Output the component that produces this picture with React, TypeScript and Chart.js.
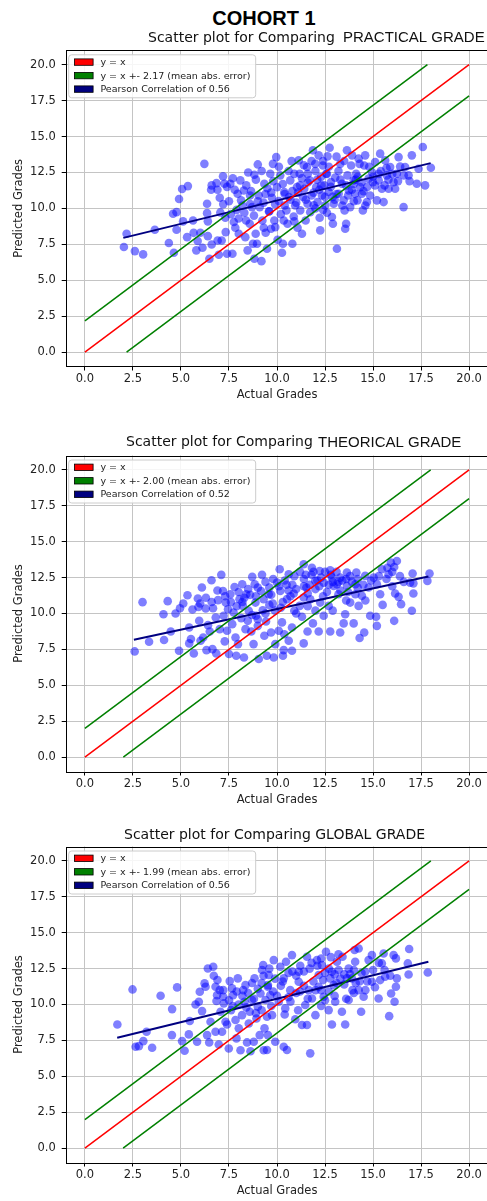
import React, { useEffect, useRef } from "react";
import { Chart, registerables } from "chart.js";
Chart.register(...registerables);

const MAIN_TITLE = "COHORT 1";
const TICKS = [0, 2.5, 5, 7.5, 10, 12.5, 15, 17.5, 20];
const AXIS_MIN = -1;
const AXIS_MAX = 21;
const DIAG = [0, 20];
const X_LABEL = "Actual Grades";
const Y_LABEL = "Predicted Grades";

const TITLE_A = ["Scatter plot for Comparing", "Scatter plot for Comparing", "Scatter plot for Comparing GLOBAL GRADE"];
const TITLE_B = ["PRACTICAL GRADE", "THEORICAL GRADE", ""];
const MAE = [2.17, 2.0, 1.99];
const PEARSON = [0.56, 0.52, 0.56];
const REG_X = [[2.0, 18.0], [2.55, 17.88], [1.68, 17.88]];
const REG_Y = [[7.95, 13.15], [8.17, 12.57], [7.68, 12.97]];

const PRACTICAL = [
  [2.03,7.31],[2.17,8.24],[2.6,7.03],[3.03,6.8],[3.64,8.51],[4.37,7.59],[4.59,9.63],[4.77,9.74],[4.63,6.91],[4.77,8.51],[4.9,10.65],[5.06,11.35],[5.36,11.55],[5.11,9.1],[5.32,8.0],[5.63,9.16],[5.66,8.3],[5.87,7.73],[5.8,7.08],[6.01,8.31],[6.12,7.26],[6.22,13.1],[6.36,10.32],[6.36,9.67],[6.4,9.1],[6.4,8.07],[6.48,6.5],[6.57,11.3],[6.6,7.49],[6.85,11.76],[6.91,7.77],[6.97,6.77],[7.02,10.74],[7.05,9.72],[7.12,7.77],[7.19,12.23],[7.26,11.72],[7.31,9.35],[7.33,8.35],[7.4,6.84],[7.5,10.5],[7.57,11.72],[7.68,6.84],[7.75,9.05],[7.83,8.65],[7.95,11.02],[8.01,8.24],[8.09,11.95],[8.13,10.56],[8.27,11.25],[8.35,8.0],[8.39,9.16],[8.47,7.08],[8.58,8.93],[8.65,11.2],[8.7,10.09],[8.75,7.54],[8.82,6.5],[8.82,12.34],[8.89,8.24],[8.96,7.54],[9.0,13.06],[9.05,10.9],[9.1,10.09],[9.19,6.33],[9.24,9.16],[9.31,8.65],[9.34,11.72],[9.41,8.31],[9.48,7.19],[9.58,9.79],[9.65,12.41],[9.69,8.58],[9.74,10.74],[9.79,13.1],[9.86,9.16],[9.91,8.7],[9.96,13.57],[10.0,11.48],[10.03,7.82],[10.09,10.51],[10.17,12.3],[10.26,6.91],[10.31,7.54],[10.35,9.16],[10.38,11.14],[10.49,9.86],[10.55,8.93],[10.62,10.79],[10.69,11.95],[10.76,13.29],[10.8,7.54],[10.87,9.44],[10.95,10.21],[11.04,11.48],[11.07,8.65],[11.13,13.34],[11.18,12.41],[11.21,9.86],[11.3,8.24],[11.35,10.79],[11.42,11.37],[11.49,9.16],[11.56,12.88],[11.59,10.32],[11.7,11.95],[11.73,9.74],[11.8,10.9],[11.87,14.04],[11.91,10.21],[11.99,13.1],[12.04,11.48],[12.11,10.44],[12.17,13.69],[12.22,9.35],[12.25,8.47],[12.29,12.18],[12.34,10.9],[12.39,12.99],[12.46,11.6],[12.51,10.21],[12.56,12.41],[12.63,13.62],[12.69,11.14],[12.74,14.22],[12.81,11.83],[12.86,9.4],[12.91,8.93],[12.95,10.32],[13.03,12.14],[13.12,7.19],[13.21,11.02],[13.29,13.1],[13.38,11.72],[13.47,10.56],[13.52,9.86],[13.55,8.58],[13.6,8.93],[13.64,14.04],[13.67,12.3],[13.74,11.25],[13.81,10.09],[13.86,12.99],[13.91,13.69],[13.99,11.95],[14.07,11.02],[14.12,12.41],[14.19,10.56],[14.25,13.46],[14.33,11.48],[14.42,11.02],[14.47,9.86],[14.54,12.99],[14.59,13.69],[14.68,10.44],[14.77,12.07],[14.85,10.9],[14.94,12.53],[14.99,11.83],[15.11,13.23],[15.2,10.56],[15.29,11.95],[15.37,13.81],[15.46,11.37],[15.55,10.44],[15.63,13.34],[15.72,12.3],[15.81,11.37],[15.89,12.88],[16.07,11.83],[16.15,11.37],[16.24,12.41],[16.33,13.57],[16.41,12.92],[16.59,10.09],[16.67,12.88],[16.85,12.3],[17.02,13.69],[17.28,11.72],[17.37,12.76],[17.59,14.27],[17.71,11.6],[18.01,12.83],
  [10.4,11.0],[10.8,11.2],[11.2,11.6],[11.5,10.6],[11.9,11.1],[12.2,11.3],[12.5,10.8],[12.8,11.5],[13.1,11.0],[13.3,12.0],[13.6,11.6],[13.9,11.3],[14.1,12.0],[14.4,11.8],[14.7,11.5],[15.0,12.2],[15.4,12.6],[15.8,12.0],[12.0,12.6],[12.6,12.4],[13.0,10.6],[11.6,12.4],[10.6,12.6],[9.8,11.9],[9.4,11.0],[9.0,10.5],[8.6,10.9],[8.2,10.2],[7.8,11.3],[7.6,9.6],[8.0,9.3],[8.8,9.5],[9.6,9.8],[10.2,9.6],[11.0,10.4],[12.0,10.0],[12.4,9.9],[13.4,10.2],[14.6,10.2],[15.6,11.6],
  [7.4,11.5],[7.7,12.1],[8.4,11.6],[8.5,12.5],[8.9,12.0],[9.2,12.6],[9.5,11.4],[9.9,10.3],[10.1,12.9],[10.4,10.2],[10.7,10.6],[10.9,12.4],[11.1,11.1],[11.3,12.1],[11.6,11.8],[11.8,13.3],[12.1,12.0],[12.3,11.6],[12.7,12.9],[12.9,10.8],[13.2,12.6],[13.5,13.3],[13.7,10.9],[14.0,11.7],[14.2,12.2],[14.5,11.2],[14.8,12.9],[15.1,11.6],[15.3,12.4],[15.7,12.8],[16.0,12.4],[16.3,11.9],[16.6,12.3],[16.9,11.9],[14.3,13.1],[13.1,13.6],[12.4,13.3],[11.4,13.0],[10.3,11.7],[9.3,10.4],[8.6,10.3],[8.3,9.7],[7.9,9.9],[7.2,10.3],[6.9,11.3],[6.6,11.6],[9.7,11.1],[10.9,9.1],[12.6,9.7],[14.0,10.5]
];

const THEORICAL = [
  [2.59,7.36],[3.0,10.79],[3.34,8.03],[4.12,8.15],[4.09,9.95],[4.31,10.86],[4.47,8.75],[4.72,10.0],[4.9,7.41],[4.95,10.37],[5.12,10.7],[5.34,11.27],[5.43,9.03],[5.43,7.92],[5.52,8.22],[5.6,10.28],[5.67,7.22],[5.88,11.04],[5.91,10.46],[5.95,9.49],[6.02,8.1],[6.09,11.81],[6.16,8.33],[6.29,10.35],[6.33,7.45],[6.41,9.19],[6.5,8.75],[6.59,12.31],[6.64,7.52],[6.67,10.37],[6.81,9.72],[6.84,7.22],[6.93,10.93],[7.02,8.91],[7.1,12.69],[7.19,11.57],[7.22,9.84],[7.28,8.06],[7.33,10.76],[7.4,8.8],[7.45,10.3],[7.5,7.18],[7.57,11.34],[7.67,9.26],[7.74,10.07],[7.79,11.85],[7.84,8.33],[7.88,7.06],[7.97,7.87],[8.05,11.0],[8.14,9.68],[8.19,12.04],[8.22,10.53],[8.28,6.94],[8.36,8.91],[8.4,11.34],[8.48,9.49],[8.53,10.19],[8.66,8.75],[8.71,12.55],[8.78,7.87],[8.84,12.04],[8.88,10.76],[8.91,9.84],[9.0,9.14],[9.05,6.83],[9.17,11.57],[9.22,12.69],[9.26,10.23],[9.34,8.45],[9.43,9.44],[9.47,7.06],[9.57,11.34],[9.69,8.68],[9.78,10.69],
  [10.14,13.08],[10.61,12.73],[11.39,13.43],[11.82,13.19],[12.22,12.96],[12.77,13.01],[13.29,12.5],[13.64,12.85],[14.13,12.85],[14.59,12.62],[15.03,12.5],[15.46,13.08],[15.75,13.19],[15.93,13.54],[16.1,13.24],[16.24,13.66],[15.81,12.73],[15.2,12.04],[15.37,11.34],[16.15,11.39],[16.33,11.16],[16.46,10.65],[17.06,12.78],[16.93,12.15],[17.1,11.39],[17.02,10.19],[17.83,12.27],[17.94,12.78],[16.1,9.49],[15.16,9.77],[15.2,9.14],[14.85,9.84],[14.54,8.68],[14.3,8.29],[13.99,9.31],[13.81,10.76],[14.25,10.53],[14.42,11.23],[14.77,11.81],[13.55,9.95],[13.47,9.31],[13.29,8.68],[13.2,11.34],[12.95,11.92],[12.77,8.75],[12.69,10.53],[12.43,9.84],[12.25,10.76],[12.17,8.75],[11.87,9.31],[11.59,8.75],[11.39,7.92],[11.3,9.77],[11.18,10.53],[10.9,10.19],[10.78,9.03],[10.61,8.1],[10.38,8.56],[10.26,9.38],[10.09,8.8],[9.91,7.87],[10.35,7.45],[10.31,7.06],[10.78,7.41],[9.83,6.94],[10.87,11.39],[11.53,11.81],[11.99,12.27],[12.43,12.15],[12.86,12.5],[13.12,12.04],[13.64,11.92],[14.08,12.04],[14.08,11.34],[11.73,10.99],[11.39,11.11],[10.52,11.0],[10.17,11.57],[10.0,12.15],
  [10.4,12.3],[10.8,12.0],[11.0,11.7],[11.4,12.4],[11.7,12.0],[12.0,11.7],[12.3,12.5],[12.6,11.5],[12.9,12.2],[13.3,11.6],[13.6,12.4],[13.9,12.2],[12.4,11.2],[11.6,11.4],[10.6,11.6],[9.6,11.8],[9.4,12.2],[9.8,12.4],[8.9,11.2],[8.5,11.7],[10.2,10.4],[11.0,10.0],[12.0,10.2],[9.4,10.0],[9.0,9.6],[8.7,9.9],[8.2,10.8],[7.9,10.5],
  [11.2,12.9],[11.5,12.7],[11.9,12.9],[12.1,12.3],[12.5,12.9],[12.8,12.7],[13.1,12.9],[13.4,12.3],[13.8,12.6],[14.2,12.4],[14.5,12.0],[14.9,12.3],[15.3,12.6],[15.7,12.4],[16.0,12.9],[16.4,12.6],[10.9,12.6],[10.5,12.0],[10.1,11.9],[9.7,11.3],[9.3,11.0],[9.0,11.8],[8.6,11.3],[8.3,11.1],[8.0,11.5],[7.6,10.8],[7.3,11.2],[6.9,11.6],[6.6,10.8],[6.3,11.1],[6.0,10.7],[11.8,12.7],[12.2,11.9],[12.7,12.0],[13.2,12.2],[13.7,11.5],[14.2,11.8],[11.4,11.9],[10.7,11.2],[10.3,10.8],[9.9,10.2],[9.6,10.6],[11.6,10.5],[12.9,10.2],[13.6,10.9],[14.6,10.9],[15.5,10.6],[16.0,11.9],[16.6,12.2],[17.1,12.1]
];

const GLOBAL = [
  [1.69,8.61],[2.48,11.05],[2.64,7.06],[2.81,7.1],[3.04,7.45],[3.21,8.1],[3.5,6.99],[3.94,10.61],[4.54,9.68],[4.53,7.87],[4.8,11.19],[5.06,7.45],[5.19,6.78],[5.41,7.92],[5.46,8.85],[5.76,10.0],[5.84,7.41],[5.93,10.19],[5.98,10.89],[6.1,9.54],[6.23,11.47],[6.28,11.24],[6.36,7.87],[6.4,12.51],[6.47,7.36],[6.54,8.8],[6.68,12.63],[6.71,12.0],[6.8,11.24],[6.8,8.1],[6.85,10.24],[6.88,10.65],[6.97,7.22],[7.02,11.0],[7.06,9.5],[7.14,8.1],[7.2,10.54],[7.23,10.08],[7.32,8.8],[7.4,8.61],[7.49,6.94],[7.54,11.63],[7.61,9.61],[7.66,11.12],[7.71,10.65],[7.84,8.92],[7.89,7.64],[7.96,11.82],[8.01,8.34],[8.1,6.82],[8.18,9.26],[8.24,11.0],[8.31,10.19],[8.36,11.35],[8.44,7.36],[8.53,8.68],[8.58,9.5],[8.62,6.75],[8.7,10.31],[8.79,7.41],[8.83,11.82],[8.93,9.03],[9.0,9.84],[9.1,7.87],[9.14,10.77],[9.22,12.4],[9.28,12.75],[9.31,6.82],[9.35,8.34],[9.4,10.31],[9.48,9.15],[9.52,11.24],
  [9.57,12.05],[9.65,10.66],[9.74,9.26],[9.53,7.87],[9.48,6.83],[9.91,7.41],[10.35,7.06],[10.52,6.83],[10.47,12.98],[10.78,13.44],[10.95,8.97],[11.21,12.7],[11.3,8.57],[11.56,8.57],[11.73,6.6],[11.56,13.32],[12.0,9.26],[12.08,13.09],[12.17,12.05],[12.43,10.54],[12.55,13.67],[12.69,9.61],[12.86,8.61],[13.03,10.19],[13.12,12.98],[13.38,9.5],[13.41,13.32],[13.55,8.61],[13.64,11.82],[13.93,11.0],[14.04,13.79],[14.25,13.9],[14.38,9.5],[14.51,10.54],[14.59,12.28],[14.77,13.09],[14.94,11.58],[15.29,10.42],[15.37,11.7],[15.55,13.55],[15.63,11.93],[15.84,9.19],[15.94,10.77],[16.12,10.19],[16.19,13.21],[16.24,11.82],[16.19,11.24],[16.81,12.86],[16.85,12.09],[16.88,13.86],[17.85,12.23],[16.07,13.44],[15.46,12.86],[14.94,13.44],[14.07,12.98],[13.73,12.5],[13.21,12.4],[12.77,11.82],[12.17,11.24],[11.65,11.0],[11.13,11.58],[10.69,11.0],[10.35,11.82],[10.09,10.19],[10.43,9.73],[11.47,9.96],[11.82,10.42],[12.95,11.35],[13.9,11.82],[14.25,11.0],[13.73,10.31],[12.86,12.28],[12.34,12.74],[11.13,12.28],[10.17,12.63],[9.83,13.09],[9.53,11.35],
  [10.6,10.5],[11.0,10.8],[11.4,11.3],[11.9,11.6],[12.3,11.0],[12.7,10.9],[13.1,11.5],[13.5,12.1],[14.0,12.4],[14.3,11.6],[10.2,11.3],[9.8,10.9],[9.2,11.5],[8.8,10.4],[8.4,9.8],[8.0,10.0],[7.7,9.9],[10.8,12.3],[11.7,12.5],[12.5,12.2],
  [12.1,12.7],[12.4,11.7],[12.7,12.5],[13.0,12.1],[13.3,11.8],[13.5,11.4],[13.8,12.1],[14.1,11.5],[14.4,12.2],[14.7,11.6],[15.0,12.4],[15.3,12.9],[15.6,12.4],[15.9,12.0],[13.2,13.5],[12.8,13.3],[12.3,13.2],[11.8,12.9],[11.4,12.3],[11.0,12.0],[10.6,12.2],[10.3,11.6],[9.9,11.8],[9.6,12.5],[9.3,12.0],[9.0,11.1],[8.7,11.5],[8.5,10.8],[8.2,10.6],[7.9,10.9],[7.5,10.3],[7.2,11.0],[6.9,11.7],[11.2,10.9],[11.6,10.4],[12.0,11.0],[12.5,10.3],[13.0,10.6],[13.6,10.4],[14.0,10.8],[10.0,10.6],[10.7,10.2],[9.7,9.9],[9.2,9.6],[8.9,9.4],[10.4,9.3],[11.1,9.6],[12.3,9.9],[14.6,11.0],[15.1,11.2]
];

const SERIES = [PRACTICAL, THEORICAL, GLOBAL];

// layout (pixels)
const CANVAS_W = 500;
const AREA_RIGHT = 488.3;
const AXIS_LEFT_W = 65.7;
const X_AXIS_H = 40;
const PANEL_TOP = [0, 410, 810];
const PANEL_H = [410, 400, 391];
const AREA_TOP = [50.3, 45.5, 36.5];
const AREA_BOTTOM = [366.5, 361.5, 352.5];
const TITLE_Y = [38.3, 32.7, 25];
const TITLE_X1 = [148, 126, 124];
const TITLE_X2 = [343, 318, 0];

const TICK_FONT = { family: "'DejaVu Sans'", size: 11.5 };
const TEXT_COLOR = "#222";

function Panel({ i }: { i: number }) {
  const ref = useRef<HTMLCanvasElement | null>(null);
  useEffect(() => {
    const canvas = ref.current;
    if (!canvas) return;
    const mae = MAE[i];
    const legendItems = [
      { color: "#ff0000", text: "y = x" },
      { color: "#008000", text: "y = x +- " + mae.toFixed(2) + " (mean abs. error)" },
      { color: "#000080", text: "Pearson Correlation of " + PEARSON[i].toFixed(2) },
    ];
    const decor = {
      id: "decor",
      afterDatasetsDraw(chart: any) {
        const { ctx, chartArea: a } = chart;
        ctx.save();
        ctx.strokeStyle = "#000";
        ctx.lineWidth = 1;
        ctx.strokeRect(Math.round(a.left) + 0.5, Math.round(a.top) + 0.5, Math.round(a.right - a.left), Math.round(a.bottom - a.top));
        const bx = a.left + 3, by = a.top + 4.5, bw = 187, bh = 43;
        ctx.beginPath();
        ctx.roundRect(bx, by, bw, bh, 3);
        ctx.fillStyle = "rgba(255,255,255,0.85)";
        ctx.fill();
        ctx.strokeStyle = "#cccccc";
        ctx.stroke();
        ctx.font = "9.5px 'DejaVu Sans'";
        ctx.textBaseline = "middle";
        legendItems.forEach((it, k) => {
          const cy = by + 7.3 + k * 13.5;
          ctx.fillStyle = it.color;
          ctx.fillRect(bx + 5.7, cy - 3.2, 18.7, 6.4);
          ctx.strokeStyle = "#000";
          ctx.lineWidth = 0.8;
          ctx.strokeRect(bx + 5.7, cy - 3.2, 18.7, 6.4);
          ctx.fillStyle = TEXT_COLOR;
          ctx.fillText(it.text, bx + 31.7, cy + 0.5);
        });
        ctx.restore();
      },
      afterDraw(chart: any) {
        const { ctx } = chart;
        ctx.save();
        ctx.fillStyle = "#111";
        ctx.textBaseline = "middle";
        ctx.font = "14px 'DejaVu Sans'";
        ctx.fillText(TITLE_A[i], TITLE_X1[i], TITLE_Y[i]);
        if (TITLE_B[i]) {
          ctx.font = "15px 'Liberation Sans'";
          ctx.fillText(TITLE_B[i], TITLE_X2[i], TITLE_Y[i]);
        }
        ctx.restore();
      },
    };
    const line = (pts: number[][], color: string, width: number) => ({
      type: "scatter" as const,
      data: pts.map(([x, y]) => ({ x, y })),
      showLine: true,
      borderColor: color,
      borderWidth: width,
      pointRadius: 0,
      fill: false,
      order: 0,
    });
    const chart = new Chart(canvas, {
      type: "scatter",
      data: {
        datasets: [
          line([[DIAG[0], DIAG[0]], [DIAG[1], DIAG[1]]], "#ff0000", 1.5),
          line([[DIAG[0], DIAG[0] + mae], [DIAG[1] - mae, DIAG[1]]], "#008000", 1.5),
          line([[DIAG[0] + mae, DIAG[0]], [DIAG[1], DIAG[1] - mae]], "#008000", 1.5),
          line([[REG_X[i][0], REG_Y[i][0]], [REG_X[i][1], REG_Y[i][1]]], "#000080", 2),
          {
            type: "scatter",
            data: SERIES[i].map(([x, y]) => ({ x, y })),
            backgroundColor: "rgba(0,0,255,0.5)",
            borderWidth: 0,
            pointRadius: 4.3,
            order: 1,
          } as any,
        ],
      },
      options: {
        responsive: false,
        animation: false,
        devicePixelRatio: 1,
        layout: {
          padding: {
            left: 0,
            right: CANVAS_W - AREA_RIGHT,
            top: AREA_TOP[i],
            bottom: PANEL_H[i] - AREA_BOTTOM[i] - X_AXIS_H,
          },
        },
        plugins: { legend: { display: false }, tooltip: { enabled: false }, title: { display: false } },
        scales: {
          x: {
            type: "linear",
            min: AXIS_MIN,
            max: AXIS_MAX,
            afterBuildTicks: (s: any) => { s.ticks = TICKS.map((v) => ({ value: v })); },
            afterFit: (s: any) => { s.height = X_AXIS_H; },
            ticks: { callback: (v: any) => Number(v).toFixed(1), font: TICK_FONT, color: TEXT_COLOR, padding: 2, maxRotation: 0, autoSkip: false },
            grid: { color: "#c4c4c4", lineWidth: 1, tickLength: 4, tickColor: "#000", tickWidth: 1 },
            border: { display: false },
            title: { display: true, text: X_LABEL, font: TICK_FONT, color: TEXT_COLOR, padding: { top: 0, bottom: 4.4 } },
          },
          y: {
            type: "linear",
            min: AXIS_MIN,
            max: AXIS_MAX,
            afterBuildTicks: (s: any) => { s.ticks = TICKS.map((v) => ({ value: v })); },
            afterFit: (s: any) => { s.width = AXIS_LEFT_W; },
            ticks: { callback: (v: any) => Number(v).toFixed(1), font: TICK_FONT, color: TEXT_COLOR, padding: 6, autoSkip: false },
            grid: { color: "#c4c4c4", lineWidth: 1, tickLength: 4, tickColor: "#000", tickWidth: 1 },
            border: { display: false },
            title: { display: true, text: Y_LABEL, font: TICK_FONT, color: TEXT_COLOR, padding: { top: 12, bottom: 0 } },
          },
        },
      } as any,
      plugins: [decor],
    });
    return () => chart.destroy();
  }, [i]);
  return (
    <canvas
      ref={ref}
      width={CANVAS_W}
      height={PANEL_H[i]}
      style={{ position: "absolute", left: 0, top: PANEL_TOP[i], width: CANVAS_W, height: PANEL_H[i] }}
    />
  );
}

export default function App() {
  return (
    <div style={{ position: "absolute", left: 0, top: 0, width: 487, height: 1201, overflow: "hidden", background: "#fff" }}>
      <div
        style={{
          position: "absolute", left: 0, top: 6, width: 528, textAlign: "center",
          font: "bold 20px 'Liberation Sans', Arial, sans-serif", lineHeight: "24px", color: "#000",
        }}
      >
        {MAIN_TITLE}
      </div>
      {[0, 1, 2].map((i) => <Panel key={i} i={i} />)}
    </div>
  );
}
